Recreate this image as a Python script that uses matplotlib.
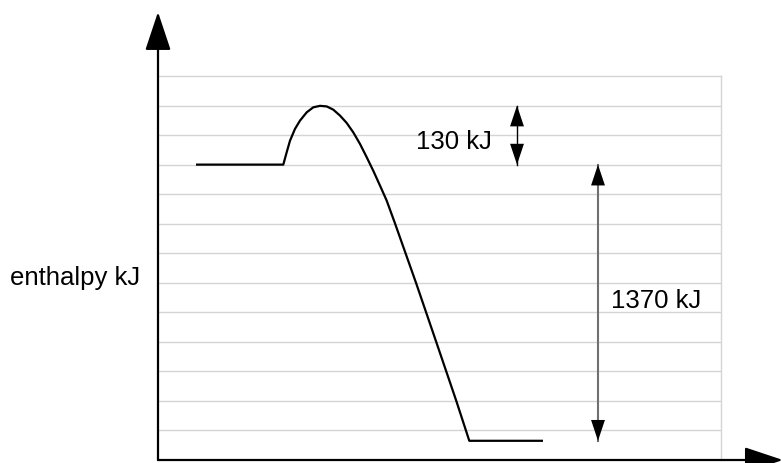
import matplotlib
matplotlib.use("Agg")
import matplotlib.pyplot as plt

# Reaction profile (arbitrary progress units, enthalpy in grid units)
progress = [38, 125.3, 128.7, 132, 137, 142, 148.7, 155.3, 162, 168.7, 175.3,
            182, 188.7, 195.3, 202, 208.7, 215.3, 222, 228.7, 237, 258.2,
            278.2, 298.2, 311.3, 385]
enthalpy = [10.0, 10.0, 10.42, 10.81, 11.21, 11.49, 11.77, 11.94, 11.99, 11.97,
            11.86, 11.66, 11.41, 11.09, 10.70, 10.25, 9.79, 9.29, 8.78, 8.01,
            5.98, 4.00, 2.01, 0.65, 0.65]

reactant_level = 10.0
peak_level = 12.0
product_level = 0.65
grid_levels = list(range(1, 13))

activation_label = "130 kJ"
reaction_label = "1370 kJ"
y_label = "enthalpy kJ"

W, H = 781, 464
fig = plt.figure(figsize=(W / 100, H / 100), dpi=100)
ax = fig.add_axes([158 / W, (H - 461) / H, (721 - 158) / W, (461 - 77) / H])
ax.set_xlim(0, 563)
ax.set_ylim(0, 13)
ax.set_xticks([])
ax.set_yticks([])
for lv in grid_levels:
    ax.axhline(lv, color="#d4d4d4", lw=1.0, zorder=0)
for s in ("top", "right"):
    ax.spines[s].set_color("#d4d4d4")
    ax.spines[s].set_linewidth(1.0)
for s in ("left", "bottom"):
    ax.spines[s].set_visible(False)

font = dict(family=["Liberation Sans", "DejaVu Sans"], fontsize=18.5)

# axes with arrows
ax.annotate("", xy=(0, 1.1667), xycoords="axes fraction", xytext=(0, 0),
            textcoords="axes fraction",
            arrowprops=dict(arrowstyle="-|>,head_length=1.2,head_width=0.4",
                            mutation_scale=20, lw=1.6, color="black",
                            shrinkA=0, shrinkB=0), annotation_clip=False)
ax.annotate("", xy=(1.11, 0), xycoords="axes fraction", xytext=(0, 0),
            textcoords="axes fraction",
            arrowprops=dict(arrowstyle="-|>,head_length=1.2,head_width=0.4",
                            mutation_scale=20, lw=1.6, color="black",
                            shrinkA=0, shrinkB=0), annotation_clip=False)

# profile curve
ax.plot(progress, enthalpy, color="black", lw=1.6, solid_joinstyle="round",
        solid_capstyle="butt", zorder=3)


def double_arrow(x, y0, y1, shaft_color, lw):
    ax.plot([x, x], [y0, y1], color=shaft_color, lw=lw, zorder=4)
    for tip, back in ((y0, y0 + (0.9 if y1 > y0 else -0.9)),
                      (y1, y1 + (0.9 if y0 > y1 else -0.9))):
        ax.annotate("", xy=(x, tip), xytext=(x, back),
                    arrowprops=dict(arrowstyle="-|>,head_length=0.75,head_width=0.25",
                                    mutation_scale=20, lw=0, color="black",
                                    shrinkA=0, shrinkB=0), zorder=5)


double_arrow(359, peak_level, reactant_level, "black", 1.0)
double_arrow(440, reactant_level, product_level, "#707070", 1.5)

ax.text(258, (461 - 149) / 29.54, activation_label, ha="left", va="baseline",
        **font)
ax.text(453, (461 - 308) / 29.54, reaction_label, ha="left", va="baseline",
        **font)
fig.text(10 / W, (H - 285) / H, y_label, ha="left", va="baseline", **font)

fig.savefig("out.png", dpi=100)
